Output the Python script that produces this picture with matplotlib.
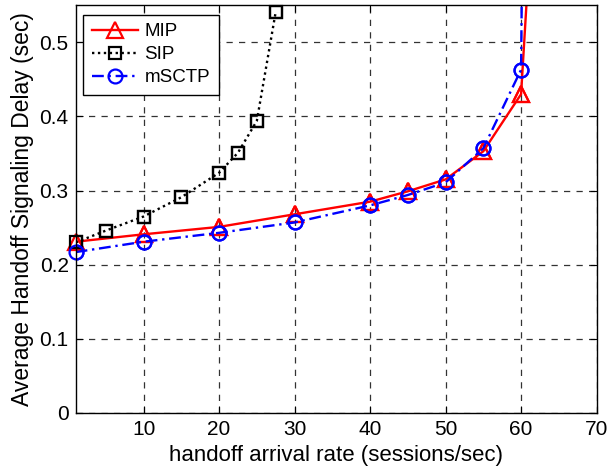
import matplotlib
matplotlib.use("Agg")
import matplotlib.pyplot as plt

plt.rcParams['font.family'] = ['Liberation Sans', 'DejaVu Sans']

# Data
mip_x = [1, 10, 20, 30, 40, 45, 50, 55, 60, 61]
mip_y = [0.231, 0.241, 0.251, 0.268, 0.285, 0.299, 0.315, 0.353, 0.430, 0.60]

sip_x = [1, 5, 10, 15, 20, 22.5, 25, 27.5]
sip_y = [0.230, 0.246, 0.265, 0.291, 0.324, 0.351, 0.394, 0.541]

msctp_x = [1, 10, 20, 30, 40, 45, 50, 55, 60, 61]
msctp_y = [0.217, 0.231, 0.243, 0.257, 0.280, 0.294, 0.311, 0.357, 0.463, 1.55]

x_ticks = [10, 20, 30, 40, 50, 60, 70]
y_ticks = [0, 0.1, 0.2, 0.3, 0.4, 0.5]
y_tick_labels = ["0", "0.1", "0.2", "0.3", "0.4", "0.5"]

fig = plt.figure(figsize=(6.1, 4.72), dpi=100)
ax = fig.add_axes([0.124, 0.125, 0.854, 0.864])

styles = [
    (mip_x, mip_y, 'red', '-', '^', 11, 'MIP'),
    (sip_x, sip_y, 'black', (0, (1, 1.5)), 's', 9, 'SIP'),
    (msctp_x, msctp_y, 'blue', (0, (5, 2, 1, 2)), 'o', 10, 'mSCTP'),
]
ymax = 0.55
for xs, ys, c, ls, mk, ms, lab in styles:
    ax.plot(xs, ys, color=c, lw=1.7, ls=ls, marker=mk, ms=ms,
            mfc='none', mec=c, mew=1.6, label=lab)
    # markers drawn unclipped (as in the original) for points inside the range
    px = [x for x, y in zip(xs, ys) if y <= ymax]
    py = [y for y in ys if y <= ymax]
    ax.plot(px, py, ls='none', marker=mk, ms=ms, mfc='none', mec=c, mew=1.6,
            clip_on=False)

ax.set_xlim(1, 70)
ax.set_ylim(0, ymax)
ax.set_xticks(x_ticks)
ax.set_xticklabels([str(t) for t in x_ticks])
ax.set_yticks(y_ticks)
ax.set_yticklabels(y_tick_labels)

ax.grid(True, color='#333333', ls=(0, (5, 5)), lw=0.9)
ax.tick_params(direction='in', top=True, right=True, labelsize=15, length=5, pad=5)
for s in ax.spines.values():
    s.set_linewidth(1.0)

ax.set_xlabel('handoff arrival rate (sessions/sec)', fontsize=16, labelpad=4)
ax.set_ylabel('Average Handoff Signaling Delay (sec)', fontsize=16.5, labelpad=4)

leg = ax.legend(loc='upper left', fontsize=13.5, frameon=True, fancybox=False,
                edgecolor='black', framealpha=1, borderpad=0.45, handlelength=2.45,
                handletextpad=0.37, labelspacing=0.32, borderaxespad=0,
                bbox_to_anchor=(0.0145, 0.977))
leg.get_frame().set_linewidth(1.0)

fig.savefig('out.png', dpi=100)
